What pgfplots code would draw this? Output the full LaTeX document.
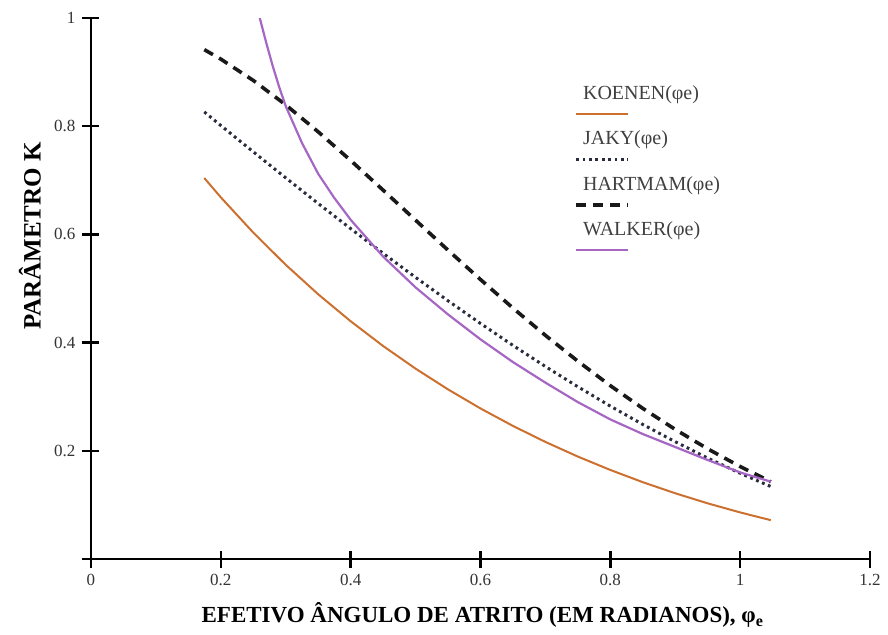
\documentclass[border=0pt]{standalone}
\usepackage{fontspec}
\setmainfont{Liberation Serif}
\usepackage{pgfplots}
\pgfplotsset{compat=1.18}
\definecolor{koenen}{RGB}{204,112,48}
\definecolor{walker}{RGB}{166,102,196}
\definecolor{hart}{RGB}{25,25,25}
\definecolor{jaky}{RGB}{40,44,60}

\pgfplotstableread{
x y
0.1745 0.7042
0.20 0.6685
0.25 0.6033
0.30 0.5438
0.35 0.4893
0.40 0.4395
0.45 0.3937
0.50 0.3519
0.55 0.3135
0.60 0.2783
0.65 0.2460
0.70 0.2164
0.75 0.1893
0.80 0.1646
0.85 0.1420
0.90 0.1215
0.95 0.1029
1.00 0.0861
1.0472 0.0718
}\koenendata

\pgfplotstableread{
x y
0.1745 0.8264
0.20 0.8013
0.25 0.7526
0.30 0.7045
0.35 0.6571
0.40 0.6106
0.45 0.5650
0.50 0.5206
0.55 0.4773
0.60 0.4354
0.65 0.3948
0.70 0.3558
0.75 0.3184
0.80 0.2826
0.85 0.2487
0.90 0.2167
0.95 0.1866
1.00 0.1585
1.0472 0.1340
}\jakydata

\pgfplotstableread{
x y
0.1745 0.9415
0.20 0.9240
0.25 0.8846
0.30 0.8394
0.35 0.7896
0.40 0.7367
0.45 0.6818
0.50 0.6263
0.55 0.5708
0.60 0.5166
0.65 0.4638
0.70 0.4134
0.75 0.3656
0.80 0.3204
0.85 0.2784
0.90 0.2395
0.95 0.2036
1.00 0.1709
1.0472 0.1429
}\hartdata

\pgfplotstableread{
x y
0.255 1.020
0.26 1.000
0.27 0.954
0.28 0.911
0.29 0.872
0.30 0.837
0.325 0.769
0.35 0.712
0.375 0.667
0.40 0.627
0.45 0.559
0.50 0.502
0.55 0.452
0.60 0.406
0.65 0.364
0.70 0.326
0.75 0.290
0.80 0.258
0.85 0.231
0.90 0.207
0.95 0.183
1.00 0.160
1.0472 0.143
}\walkerdata

\begin{document}
\begin{tikzpicture}
\useasboundingbox (-45.5pt,-37.5pt) rectangle (398.5pt,279.5pt);
\begin{axis}[
  at={(0,0)}, anchor=south west,
  scale only axis, width=389.5pt, height=270.5pt,
  xmin=0, xmax=1.2, ymin=0, ymax=1,
  axis lines=left,
  axis line style={-, line width=1.3pt, black},
  xtick={0,0.2,0.4,0.6,0.8,1,1.2},
  xticklabels={0,0.2,0.4,0.6,0.8,1,1.2},
  ytick={0,0.2,0.4,0.6,0.8,1},
  yticklabels={,0.2,0.4,0.6,0.8,1},
  tick align=center, major tick length=8.5pt,
  tick style={line width=1.2pt, black},
  ticklabel style={font=\fontsize{8.5}{10}\selectfont, text=black!80},
  every axis x label/.style={at={(axis description cs:0.503,0)}, anchor=center, yshift=-28pt, font=\bfseries\fontsize{11.5}{13}\selectfont},
  every axis y label/.style={at={(axis description cs:-0.0783,0.597)}, rotate=90, anchor=center, font=\bfseries\fontsize{12.5}{14}\selectfont},
  xlabel={EFETIVO ÂNGULO DE ATRITO (EM RADIANOS), φ\textsubscript{e}},
  ylabel={PARÂMETRO K},
  legend cell align=left,
  legend style={at={(axis description cs:0.6240,0.880)}, anchor=north west, draw=none, fill=none, inner sep=0pt, row sep=12.3pt, column sep=0pt, font=\fontsize{10}{12}\selectfont, text=black!75, nodes={inner sep=1pt}},
  legend image code/.code={\draw[#1, overlay] (-1.5pt,-10pt) -- (24.5pt,-10pt); \path (0pt,0pt);},
]
\addplot[koenen, line width=1pt] table[x=x,y=y] {\koenendata};
\addlegendentry{KOENEN(φe)}
\addplot[jaky, line width=1.5pt, dash pattern=on 1.4pt off 1.8pt] table[x=x,y=y] {\jakydata};
\addlegendentry{JAKY(φe)}
\addplot[hart, line width=1.8pt, dash pattern=on 5pt off 3.5pt] table[x=x,y=y] {\hartdata};
\addlegendentry{HARTMAM(φe)}
\addplot[walker, line width=1.1pt] table[x=x,y=y] {\walkerdata};
\addlegendentry{WALKER(φe)}
\end{axis}
\end{tikzpicture}
\end{document}
